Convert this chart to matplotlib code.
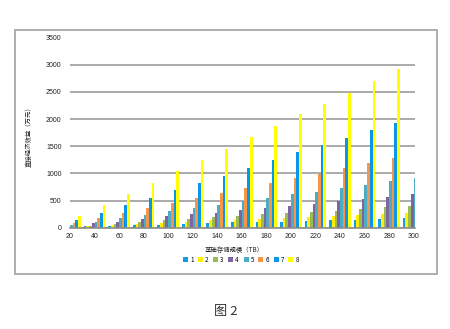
import numpy as np
import matplotlib.pyplot as plt
from matplotlib.patches import Rectangle, Patch

plt.rcParams['font.family'] = ['Noto Sans CJK SC', 'DejaVu Sans']

# 基础存储规模 (TB)
scales = [20, 40, 60, 80, 100, 120, 140, 160, 180, 200, 220, 240, 260, 280, 300]

# 直接经济效益（万元），方案 1~8
s1 = [12, 24, 30, 43, 55, 67, 86, 98, 105, 111, 123, 135, 147, 160, 178]
s2 = [18, 30, 49, 67, 85, 98, 135, 148, 166, 185, 197, 215, 233, 258, 270]
s3 = [25, 37, 73, 104, 134, 154, 191, 215, 246, 271, 289, 313, 338, 375, 399]
s4 = [35, 79, 110, 165, 207, 246, 277, 320, 363, 406, 442, 485, 522, 559, 614]
s5 = [48, 110, 171, 238, 299, 357, 424, 486, 547, 615, 663, 725, 792, 854, 915]
s6 = [79, 171, 262, 360, 457, 541, 633, 732, 824, 923, 989, 1100, 1186, 1284, 1380]
s7 = [134, 268, 409, 543, 689, 824, 959, 1107, 1248, 1384, 1517, 1658, 1794, 1935, 2070]
s8 = [207, 415, 622, 823, 1037, 1248, 1451, 1661, 1876, 2085, 2285, 2482, 2703, 2912, 3120]

series = [s1, s2, s3, s4, s5, s6, s7, s8]
names = ['1', '2', '3', '4', '5', '6', '7', '8']
colors = ['#129de2', '#ffee00', '#9bbb59', '#8064a2',
          '#4bacc6', '#f79646', '#0a96e4', '#ffff00']

fig = plt.figure(figsize=(4.5, 3.29), dpi=100)
ax = fig.add_axes([70/450, 1 - 227.7/329, 345/450, (227.7 - 37.5)/329])

x = np.array(scales, dtype=float)
w = 2.2
for i, (vals, c) in enumerate(zip(series, colors)):
    ax.bar(x + (i - 3.5) * w, vals, width=w, color=c, linewidth=0, zorder=2)

ax.set_xlim(21.5, 301.2)
ax.set_ylim(0, 3500)
ax.set_yticks(range(0, 3501, 500))
ax.set_xticks(scales)
ax.set_axisbelow(True)
ax.yaxis.grid(True, color='#9c9c9c', linewidth=1.2)
for s in ['top', 'right', 'left']:
    ax.spines[s].set_visible(False)
ax.spines['bottom'].set_color('#8c8c8c')
ax.spines['bottom'].set_linewidth(1.2)
ax.tick_params(axis='both', length=0, labelsize=5, labelcolor='#222222')
ax.tick_params(axis='y', pad=6)
ax.tick_params(axis='x', pad=4)
for lbl in ax.get_xticklabels() + ax.get_yticklabels():
    lbl.set_family(['Liberation Sans', 'DejaVu Sans'])

fig.text(29/450, 1 - 135/329, '直接经济效益（万元）', rotation=90,
         ha='center', va='center', fontsize=4.6, color='#222222')
fig.text(234/450, 1 - 250/329, '基础存储规模（TB）',
         ha='center', va='center', fontsize=4.6, color='#222222')

handles = [Patch(facecolor=c, edgecolor='none') for c in colors]
fig.legend(handles, names, loc='center', ncol=8,
           bbox_to_anchor=(241/450, 1 - 260/329), frameon=False,
           fontsize=4.5, handlelength=0.8, handleheight=0.8,
           handletextpad=0.3, columnspacing=0.75, borderpad=0)

# 外框
fig.patches.append(Rectangle((15/450, 1 - 274/329), 422/450, 244/329,
                             transform=fig.transFigure, fill=False,
                             edgecolor='#a8a8a8', linewidth=1.3))

fig.text(226/450, 1 - 311/329, '图 2', ha='center', va='center',
         fontsize=9.5, color='#333333')

fig.savefig('out.png', dpi=100)
